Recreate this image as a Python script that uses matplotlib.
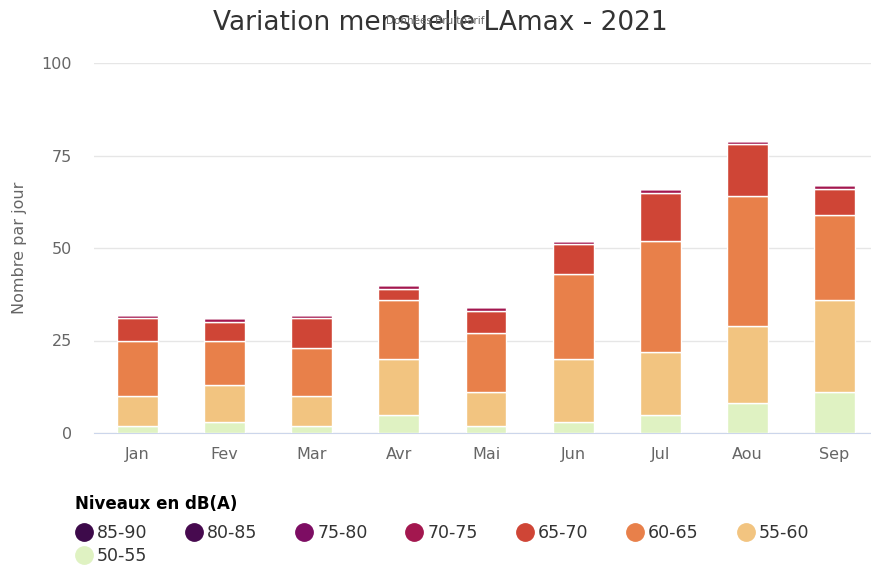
import matplotlib.pyplot as plt
from matplotlib.lines import Line2D
import numpy as np

months = ['Jan', 'Fev', 'Mar', 'Avr', 'Mai', 'Jun', 'Jul', 'Aou', 'Sep']

# days per month in each noise band (stacked bottom -> top)
lvl_50_55 = [2, 3, 2, 5, 2, 3, 5, 8, 11]
lvl_55_60 = [8, 10, 8, 15, 9, 17, 17, 21, 25]
lvl_60_65 = [15, 12, 13, 16, 16, 23, 30, 35, 23]
lvl_65_70 = [6, 5, 8, 3, 6, 8, 13, 14, 7]
lvl_70_75 = [1, 1, 1, 1, 1, 1, 1, 1, 1]
lvl_75_80 = [0, 0, 0, 0, 0, 0, 0, 0, 0]
lvl_80_85 = [0, 0, 0, 0, 0, 0, 0, 0, 0]
lvl_85_90 = [0, 0, 0, 0, 0, 0, 0, 0, 0]

band_labels = ['50-55', '55-60', '60-65', '65-70', '70-75', '75-80', '80-85', '85-90']
band_colors = ['#dff2c2', '#f2c480', '#e8804a', '#cf4536', '#a3174f', '#7d0d63', '#470a4f', '#3d0a4a']
bands = [lvl_50_55, lvl_55_60, lvl_60_65, lvl_65_70, lvl_70_75, lvl_75_80, lvl_80_85, lvl_85_90]

fig = plt.figure(figsize=(8.71, 5.66), dpi=100)
ax = fig.add_axes([94 / 871, 1 - 433 / 566, (878 - 94) / 871, (433 - 63) / 566])

x = np.arange(len(months))
bottom = np.zeros(len(months))
for vals, col in zip(bands, band_colors):
    vals = np.array(vals, dtype=float)
    ax.bar(x, vals, bottom=bottom, width=0.47, color=col, edgecolor='white', linewidth=1, zorder=3)
    bottom += vals

ax.set_xlim(-0.5, 8.5)
ax.set_ylim(0, 100)
ax.set_yticks([0, 25, 50, 75, 100])
ax.set_xticks(x)
ax.set_xticklabels(months)
ax.grid(axis='y', color='#e6e6e6', linewidth=1, zorder=0)
for s in ['top', 'right', 'left']:
    ax.spines[s].set_visible(False)
ax.spines['bottom'].set_color('#ccd6eb')
ax.tick_params(axis='both', length=0, colors='#666666', labelsize=11.5)
ax.tick_params(axis='y', pad=16)
ax.tick_params(axis='x', pad=10)
ax.set_ylabel('Nombre par jour', color='#666666', fontsize=11.5, labelpad=10)

fig.text(0.505, 0.960, 'Variation mensuelle LAmax - 2021', ha='center', va='center',
         fontsize=19, color='#333333')
fig.text(0.5, 0.964, 'Données Bruitparif', ha='center', va='center',
         fontsize=7.5, color='#666666')

# legend: order handles so the column-major fill gives 7 items on row 1 and 50-55 on row 2
order = [7, 0, 6, 5, 4, 3, 2, 1]
handles = [Line2D([], [], marker='o', linestyle='', markersize=12.5,
                  markerfacecolor=band_colors[i], markeredgecolor=band_colors[i])
           for i in order]
labels = [band_labels[i] for i in order]
leg = fig.legend(handles, labels, loc='upper left', bbox_to_anchor=(0.068, 0.153),
                 ncol=7, frameon=False, fontsize=12.5, handletextpad=0.25,
                 columnspacing=2.2, labelspacing=0.28, handlelength=1.0,
                 title='Niveaux en dB(A)', alignment='left',
                 title_fontproperties={'weight': 'bold', 'size': 12})
leg._legend_box.sep = 8
for t in leg.get_texts():
    t.set_color('#333333')

fig.savefig('out.png', dpi=100)
